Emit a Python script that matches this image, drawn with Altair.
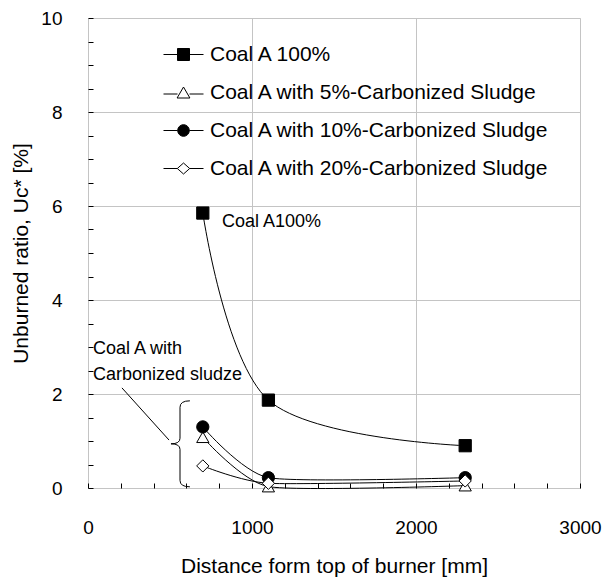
import altair as alt
import pandas as pd

# ---- data ----
distance = [700, 1100, 2300]
coal_a_100 = [5.85, 1.87, 0.90]
sludge_5 = [1.08, 0.03, 0.05]
sludge_10 = [1.30, 0.22, 0.22]
sludge_20 = [0.47, 0.10, 0.15]

series_names = [
    "Coal A 100%",
    "Coal A with 5%-Carbonized Sludge",
    "Coal A with 10%-Carbonized Sludge",
    "Coal A with 20%-Carbonized Sludge",
]
series_values = [coal_a_100, sludge_5, sludge_10, sludge_20]
series_shapes = ["square", "triangle-up", "circle", "diamond"]
series_fills = ["black", "white", "black", "white"]

x_major = [0, 1000, 2000, 3000]
y_major = [0, 2, 4, 6, 8, 10]
x_minor = list(range(0, 3001, 200))
y_minor = [i * 0.5 for i in range(21)]

# annotations (data units)
note_text = ["Coal A100%", "Coal A with", "Carbonized sludze"]
note_x = [817, 30, 30]
note_y = [5.66, 2.96, 2.40]
leader_x = [207]
leader_y = [2.13]
leader_x2 = [494]
leader_y2 = [1.02]
brace_x = [561]
brace_y = [0.94]

FONT = "Liberation Sans"

rows = []
for name, vals in zip(series_names, series_values):
    for xv, yv in zip(distance, vals):
        rows.append({"series": name, "x": xv, "y": yv})
df = pd.DataFrame(rows)

notes = pd.DataFrame({"text": note_text, "x": note_x, "y": note_y})
leader = pd.DataFrame({"x": leader_x, "y": leader_y, "x2": leader_x2, "y2": leader_y2})
brace = pd.DataFrame({"x": brace_x, "y": brace_y})

xscale = alt.Scale(domain=[0, 3000], nice=False, zero=False)
yscale = alt.Scale(domain=[0, 10], nice=False, zero=False)

main_x_axis = alt.Axis(
    values=x_major, orient="bottom", grid=True, gridColor="#c4c4c4", gridWidth=1,
    ticks=False, domain=False, labelFont=FONT, labelFontSize=19, labelColor="black",
    labelPadding=30, title="Distance form top of burner [mm]", titleFont=FONT,
    titleFontSize=21, titleFontWeight="normal", titleColor="black", titlePadding=18,
    format="d", labelFlush=False,
)
main_y_axis = alt.Axis(
    values=y_major, orient="left", grid=True, gridColor="#c4c4c4", gridWidth=1,
    ticks=False, domain=False, labelFont=FONT, labelFontSize=19, labelColor="black",
    labelPadding=26, title="Unburned ratio, Uc* [%]", titleFont=FONT,
    titleFontSize=21, titleFontWeight="normal", titleColor="black", titlePadding=9,
    format="d", labelFlush=False,
)
minor_x_axis = alt.Axis(
    values=x_minor, orient="bottom", offset=-5, ticks=True, tickSize=5,
    tickColor="black", tickWidth=1, labels=False, domain=False, grid=False, title=None,
)
minor_y_axis = alt.Axis(
    values=y_minor, orient="left", offset=-5, ticks=True, tickSize=5,
    tickColor="black", tickWidth=1, labels=False, domain=False, grid=False, title=None,
)

layers = []
# smoothed lines
for i, name in enumerate(series_names):
    xa = main_x_axis if i == 0 else None
    ya = main_y_axis if i == 0 else None
    if i == 0:
        mk = alt.Chart(df).mark_line(interpolate="catmull-rom", color="black", strokeWidth=1)
    else:
        mk = alt.Chart(df).mark_line(interpolate="cardinal", tension=0.4, color="black", strokeWidth=1)
    layers.append(
        mk.transform_filter(alt.datum.series == name)
        .encode(x=alt.X("x:Q", scale=xscale, axis=xa), y=alt.Y("y:Q", scale=yscale, axis=ya))
    )
# markers
for i, (name, shp, fl) in enumerate(zip(series_names, series_shapes, series_fills)):
    xa = minor_x_axis if i == 0 else None
    ya = minor_y_axis if i == 0 else None
    layers.append(
        alt.Chart(df).transform_filter(alt.datum.series == name)
        .mark_point(shape=shp, filled=True, fill=fl, stroke="black", strokeWidth=1,
                    size=150, opacity=1)
        .encode(x=alt.X("x:Q", scale=xscale, axis=xa), y=alt.Y("y:Q", scale=yscale, axis=ya))
    )

# legend (symbols made of a line stub plus the marker)
legend_paths = [
    "M -2 0 H -0.6 M 0.6 0 H 2 M -0.6 -0.6 H 0.6 V 0.6 H -0.6 Z",
    "M -2 0.15 H -0.6 M 0.6 0.15 H 2 M 0 -0.55 L 0.64 0.55 L -0.64 0.55 Z",
    "M -2 0 H -0.58 M 0.58 0 H 2 M -0.58 0 A 0.58 0.58 0 1 0 0.58 0 A 0.58 0.58 0 1 0 -0.58 0 Z",
    "M -2 0 H -0.62 M 0.62 0 H 2 M 0 -0.55 L 0.62 0 L 0 0.55 L -0.62 0 Z",
]
legend_def = alt.Legend(
    title=None, orient="none", legendX=75, legendY=26, symbolSize=400,
    symbolStrokeWidth=1, symbolStrokeColor="black", symbolOffset=10,
    labelFont=FONT, labelFontSize=21, labelColor="black", labelOffset=16,
    rowPadding=16, padding=0, labelLimit=0, symbolOpacity=1,
)
layers.append(
    alt.Chart(df).transform_filter(alt.datum.x < 0)
    .mark_point(filled=True, strokeWidth=1, opacity=1)
    .encode(
        x=alt.X("x:Q", scale=xscale, axis=None),
        y=alt.Y("y:Q", scale=yscale, axis=None),
        shape=alt.Shape("series:N", scale=alt.Scale(domain=series_names, range=legend_paths),
                        legend=legend_def),
        fill=alt.Fill("series:N", scale=alt.Scale(domain=series_names, range=series_fills),
                      legend=legend_def),
        stroke=alt.Stroke("series:N", scale=alt.Scale(domain=series_names, range=["black"] * 4),
                          legend=legend_def),
    )
)

# annotations
layers.append(
    alt.Chart(notes).mark_text(align="left", baseline="middle", font=FONT, fontSize=18, color="black")
    .encode(x=alt.X("x:Q", scale=xscale, axis=None), y=alt.Y("y:Q", scale=yscale, axis=None), text="text:N")
)
layers.append(
    alt.Chart(leader).mark_rule(color="black", strokeWidth=1)
    .encode(x=alt.X("x:Q", scale=xscale, axis=None), y=alt.Y("y:Q", scale=yscale, axis=None),
            x2="x2:Q", y2="y2:Q")
)
brace_path = "M 0.23 -1 Q 0 -1 0 -0.85 L 0 -0.13 Q 0 0 -0.21 0 Q 0 0 0 0.13 L 0 0.85 Q 0 1 0.23 1"
layers.append(
    alt.Chart(brace).mark_point(shape=brace_path, filled=False, stroke="black", strokeWidth=1,
                                size=7396, opacity=1)
    .encode(x=alt.X("x:Q", scale=xscale, axis=None), y=alt.Y("y:Q", scale=yscale, axis=None))
)

chart = (
    alt.layer(*layers)
    .resolve_axis(x="independent", y="independent")
    .properties(width=492, height=470, autosize="none",
                padding={"left": 88, "top": 18, "right": 25, "bottom": 89})
    .configure_view(stroke="black", strokeWidth=1.3)
    .configure(background="white")
)

chart.save("out.html", embed_options={"renderer": "svg", "actions": False})
